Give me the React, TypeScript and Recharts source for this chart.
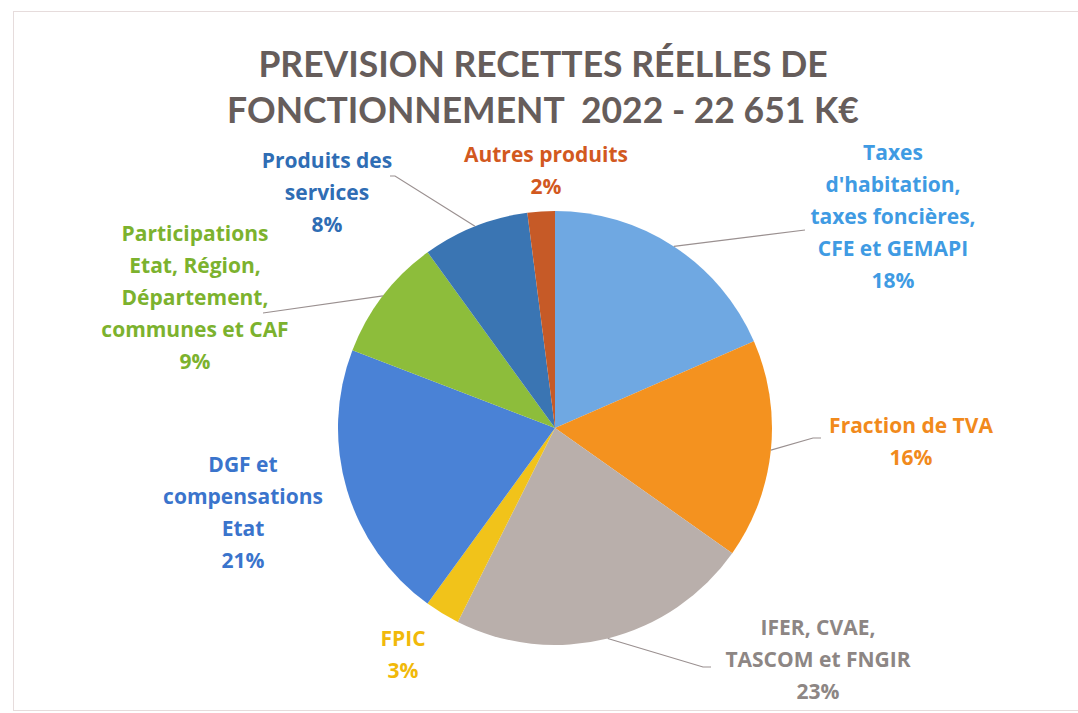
import React from 'react';
import { PieChart, Pie, Cell } from 'recharts';

// recettes 2022 en K€ (total 22 651)
const categories = [
  'Taxes|d\'habitation,|taxes foncières,|CFE et GEMAPI',
  'Fraction de TVA',
  'IFER, CVAE,|TASCOM et FNGIR',
  'FPIC',
  'DGF et|compensations|Etat',
  'Participations|Etat, Région,|Département,|communes et CAF',
  'Produits des|services',
  'Autres produits',
];
const amounts = [4180, 3700, 5120, 590, 4720, 2080, 1800, 461];
const sliceColors = ['#6fa8e2', '#f4921f', '#b9afab', '#f1c31a', '#4a82d6', '#8dbd3b', '#3a75b3', '#c65a27'];
const labelColors = ['#3f9be3', '#f18a1c', '#8d8684', '#f1b90a', '#3a74cc', '#7cb22e', '#2f6db4', '#d2591f'];

// label block placement relative to pie centre (dx, dy of first line), leader line end (lx, ly) and tail
const labelLayout = [
  { dx: 338, dy: -268, line: true, lx: 250, ly: -198, tail: 0 },
  { dx: 356, dy: 5, line: true, lx: 258, ly: 10, tail: 8 },
  { dx: 263, dy: 207, line: true, lx: 148, ly: 239, tail: 8 },
  { dx: -152, dy: 218, line: false, lx: 0, ly: 0, tail: 0 },
  { dx: -312, dy: 44, line: false, lx: 0, ly: 0, tail: 0 },
  { dx: -360, dy: -187, line: true, lx: -292, ly: -115, tail: 0 },
  { dx: -228, dy: -260, line: true, lx: -160, ly: -252, tail: -5 },
  { dx: -9, dy: -266, line: false, lx: 0, ly: 0, tail: 0 },
];

const data = categories.map((name, i) => ({ name, value: amounts[i] }));

const RAD = Math.PI / 180;
const LINE_H = 32;

const renderLabel = (props: any) => {
  const { cx, cy, midAngle, outerRadius, percent, index } = props;
  const lay = labelLayout[index];
  const lines = categories[index].split('|');
  lines.push(`${Math.round(percent * 100)}%`);
  const sx = cx + outerRadius * Math.cos(-midAngle * RAD);
  const sy = cy + outerRadius * Math.sin(-midAngle * RAD);
  const tx = cx + lay.dx;
  const ty = cy + lay.dy;
  const ex = cx + lay.lx;
  const ey = cy + lay.ly;
  return (
    <g key={`lab-${index}`}>
      {lay.line && (
        <polyline
          points={`${sx},${sy} ${ex},${ey} ${ex + lay.tail},${ey}`}
          fill="none"
          stroke="#9a9090"
          strokeWidth={1.2}
        />
      )}
      <text
        x={tx}
        y={ty}
        textAnchor="middle"
        fill={labelColors[index]}
        style={{ fontFamily: '"Open Sans", sans-serif', fontWeight: 'bold', fontSize: '21px' }}
      >
        {lines.map((l, j) => (
          <tspan key={j} x={tx} dy={j === 0 ? 0 : LINE_H}>
            {l}
          </tspan>
        ))}
      </text>
    </g>
  );
};

export default function App() {
  return (
    <div style={{ position: 'absolute', left: 0, top: 0, width: 1078, height: 713, background: '#ffffff', overflow: 'hidden' }}>
      <div
        style={{
          position: 'absolute',
          left: 13,
          top: 11,
          width: 1075,
          height: 698,
          border: '1px solid #e6dcdc',
        }}
      />
      <div
        style={{
          position: 'absolute',
          left: 0,
          top: 41,
          width: 1086,
          textAlign: 'center',
          fontFamily: 'Lato, sans-serif',
          fontWeight: 'bold',
          fontSize: '35.5px',
          lineHeight: '46px',
          color: '#665d5b',
        }}
      >
        PREVISION RECETTES RÉELLES DE
        <br />
        FONCTIONNEMENT&nbsp; 2022 - 22 651 K€
      </div>
      <div style={{ position: 'absolute', left: 0, top: 0 }}>
        <PieChart width={1078} height={713}>
          <Pie
            data={data}
            dataKey="value"
            nameKey="name"
            cx={550}
            cy={423}
            outerRadius={217}
            startAngle={90}
            endAngle={-270}
            stroke="none"
            label={renderLabel}
            labelLine={false}
            isAnimationActive={false}
          >
            {data.map((d, i) => (
              <Cell key={d.name} fill={sliceColors[i]} />
            ))}
          </Pie>
        </PieChart>
      </div>
    </div>
  );
}
